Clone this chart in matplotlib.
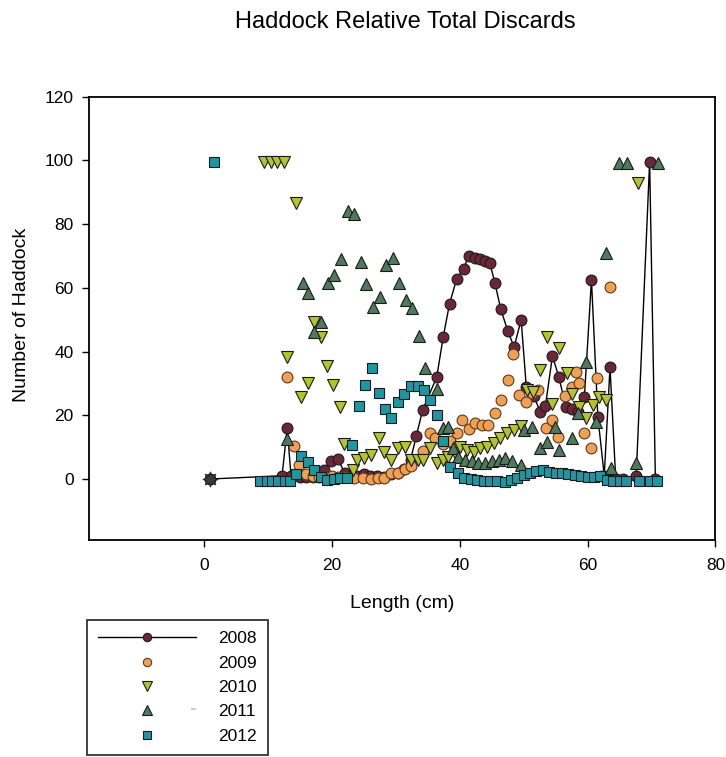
import matplotlib
matplotlib.use("Agg")
import matplotlib.pyplot as plt
from matplotlib.lines import Line2D

plt.rcParams['font.family'] = ['Liberation Sans', 'DejaVu Sans']

# Length (cm) and relative number of haddock discarded per year
len_2008 = [1, 12.2, 13, 13.6, 15, 16, 17, 18.8, 19.8, 20.9, 22, 23, 24, 25, 26, 27, 28.2,
            29.3, 30.3, 31.3, 32.3, 33.2, 34.2, 36.4, 37.4, 38.4, 39.5, 40.6, 41.4, 42.4,
            43.2, 44.0, 44.7, 45.5, 46.4, 47.5, 48.5, 49.6, 50.4, 51.6, 52.6, 53.4, 54.5,
            55.5, 56.6, 57.5, 58.5, 59.5, 60.6, 61.6, 62.6, 63.5, 64.4, 65.5, 67.6, 69.7, 70.6]
num_2008 = [0, 1, 16, 1, 0.5, 0.5, 0.5, 2.8, 5.5, 6.3, 2, 1, 1, 1.5, 1, 1, 0.6,
            1.5, 2, 3, 6, 13.5, 21.7, 32, 44.5, 55, 62.7, 66, 70, 69.4,
            69, 68.5, 67.8, 61.5, 53.4, 46.5, 41.4, 50, 29, 26, 21, 23, 38.6,
            32, 22.6, 22, 21, 25.8, 62.5, 19.6, 1, 35, 0, 0, 1, 99.6, 0]

len_2009 = [13, 14, 14.8, 16, 17, 18, 19, 20, 21, 22, 23.5, 24.8, 26.1, 27.2, 28.2, 29.3,
            30.3, 31.4, 32.4, 34.3, 35.3, 36.2, 37.3, 38.4, 39.5, 40.3, 41.4, 42.4, 43.5,
            44.4, 45.5, 46.5, 47.5, 48.4, 49.3, 50.3, 51.3, 52.3, 53.5, 54.5, 55.4, 56.5,
            57.5, 58.2, 58.7, 59.5, 60.5, 61.4, 62.2, 63.5]
num_2009 = [32, 10.3, 4.4, 1.5, 1, 0.5, 0.5, 1, 0.5, 0.5, 0.3, 0.3, 0, 0.3, 0.3, 2,
            2, 3, 4, 8.9, 14.5, 13, 11, 12, 14.4, 18.5, 15.7, 17.6, 17,
            17, 20.7, 24.8, 31, 39.3, 26.4, 24.2, 27, 28, 16, 18.5, 13.3, 26,
            29, 33.7, 30, 14.3, 9.8, 31.7, 1, 60.2]

len_2010 = [9.3, 10.4, 11.4, 12.5, 13, 14.4, 15.1, 16.2, 17.2, 18.3, 19.2, 20.2, 21.2, 21.9,
            23.3, 23.9, 25, 26.1, 27.3, 28.2, 29.3, 30.3, 31.4, 32.4, 33.5, 34.3, 35.3,
            36.4, 37.3, 38.2, 39.3, 40.1, 41.1, 42.2, 43.2, 44.3, 45.3, 46.3, 47.4, 48.5,
            49.5, 50.5, 51.4, 52.5, 53.6, 54.4, 55.6, 56.7, 57.6, 58.6, 59.7, 60.9, 61.8,
            62.8, 67.9]
num_2010 = [99.6, 99.6, 99.6, 99.6, 38.4, 86.6, 25.8, 30.2, 49.4, 44.7, 35.5, 29.5, 22.5, 11,
            2.8, 6, 6.5, 7.5, 12.8, 8.6, 6, 9.6, 10.1, 6, 6, 6, 9.6,
            4.9, 6, 7, 8, 10, 9.1, 8.6, 9.6, 10.1, 11.2, 12.8, 14.3, 15.4,
            16.6, 28, 27.4, 34.2, 44.7, 23.5, 41, 33.2, 26.8, 22.7, 19, 23.2, 25.8,
            24.8, 92.8]

len_2011 = [13, 15.4, 16.3, 17.2, 18.3, 19.4, 20.4, 21.4, 22.5, 23.5, 24.5, 25.4, 26.4, 27.5,
            28.5, 29.6, 30.5, 31.6, 32.6, 33.6, 34.5, 36.5, 37.3, 38.2, 39, 39.8, 40.8,
            41.9, 42.9, 44, 45, 46.1, 47.1, 48.2, 49.5, 50.1, 51.3, 52.5, 53.7, 54.9, 55.5,
            57.6, 58.5, 59.7, 61.3, 62.8, 63.7, 64.9, 66.1, 67.6, 71]
num_2011 = [12.5, 61.4, 58.3, 46.2, 49.4, 61.6, 64, 69, 84, 83.2, 68, 61.2, 54.1, 57.2,
            67.2, 69.3, 61.4, 56.2, 53.6, 44.8, 34.8, 28.3, 16, 16.4, 9.6, 7, 6,
            5.5, 4.9, 5.1, 5.5, 6, 6.5, 5.5, 4.4, 15.4, 16.4, 9.6, 11.7, 16.4, 9.1,
            12.8, 20.7, 36.8, 18, 71, 3.4, 99.3, 99.3, 4.9, 99.3]

len_2012 = [1.5, 8.8, 9.8, 10.7, 11.6, 12.6, 13.5, 14.4, 15.1, 16.2, 17.2, 18.3, 19.3, 20.3,
            21.3, 22.3, 23.2, 24.2, 25.2, 26.3, 27.3, 28.3, 29.3, 30.3, 31.3, 32.4, 33.4,
            34.4, 35.4, 36.4, 37.4, 38.5, 39.7, 40.7, 41.7, 42.7, 43.8, 44.8, 45.9, 47,
            48, 49, 50, 51, 52, 53, 54, 55, 56, 57, 58, 59, 60, 61, 62, 63, 64, 65, 66,
            68, 69.7, 70.8]
num_2012 = [99.6, -0.5, -0.5, -0.5, -0.5, -0.5, -0.5, 1.5, 7.2, 5.4, 2.8, 0.7, -0.3, 0,
            0.3, 0.3, 10.7, 22.8, 29.5, 34.9, 26.9, 21.9, 19, 24.2, 26.6, 29.3, 29.1,
            27.8, 24.8, 20.1, 12, 3.9, 1.8, 0.4, 0, -0.3, -0.5, -0.5, -0.5, -0.8,
            -0.3, 0.4, 1.2, 1.8, 2.5, 2.8, 2.3, 2, 1.8, 1.5, 1.2, 1, 0.7, 0.7, 1, -0.3,
            -0.5, -0.5, -0.5, -0.5, -0.5, -0.5]

years = ['2008', '2009', '2010', '2011', '2012']
x_ticks = [0, 20, 40, 60, 80]
y_ticks = [0, 20, 40, 60, 80, 100, 120]

c2008 = '#6b2637'
c2009 = '#f0a052'
c2010 = '#b4c52c'
c2011 = '#4f7a5c'
c2012 = '#1f97a3'
edge = '#1a1a1a'

fig = plt.figure(figsize=(7.26, 7.57), dpi=100)
ax = fig.add_axes([0.1226, 0.2873, 0.8629, 0.585])

ax.plot(len_2008, num_2008, color='black', lw=1.0, zorder=2)
ax.plot(len_2008, num_2008, ls='none', marker='o', ms=7.8, mfc=c2008, mec=edge,
        mew=0.8, zorder=3)
ax.plot(len_2009, num_2009, ls='none', marker='o', ms=7.8, mfc=c2009, mec='#5a3a20',
        mew=0.8, zorder=3)
ax.plot(len_2010, num_2010, ls='none', marker='v', ms=8.8, mfc=c2010, mec=edge,
        mew=0.8, zorder=4)
ax.plot(len_2011, num_2011, ls='none', marker='^', ms=8.8, mfc=c2011, mec=edge,
        mew=0.8, zorder=4)
ax.plot(len_2012, num_2012, ls='none', marker='s', ms=7.2, mfc=c2012, mec=edge,
        mew=0.8, zorder=5)
# overlapping start point at zero length
ax.plot(len_2008[:1], num_2008[:1], ls='none', marker=(8, 1, 0), ms=11,
        mfc='#3a3a3a', mec='#222222', mew=0.6, zorder=6)

ax.set_xlim(-18, 80)
ax.set_ylim(-19, 120)
ax.set_xticks(x_ticks)
ax.set_yticks(y_ticks)
ax.tick_params(axis='both', direction='out', length=5, width=1, labelsize=12.5,
               colors='black')
ax.tick_params(axis='x', pad=8)
ax.tick_params(axis='y', pad=6)
for s in ax.spines.values():
    s.set_linewidth(1.3)
    s.set_color('black')

fig.text(405 / 726, 1 - 22 / 757, 'Haddock Relative Total Discards', ha='center',
         va='center', fontsize=17)
fig.text(402 / 726, 1 - 604 / 757, 'Length (cm)', ha='center', va='center', fontsize=14)
fig.text(22 / 726, 1 - 315 / 757, 'Number of Haddock', ha='center', va='center',
         rotation=90, fontsize=14)

handles = [
    Line2D([], [], color='black', lw=1.0, marker='o', ms=6, mfc=c2008, mec=edge, mew=0.8),
    Line2D([], [], ls='none', marker='o', ms=6, mfc=c2009, mec='#5a3a20', mew=0.8),
    Line2D([], [], ls='none', marker='v', ms=7, mfc=c2010, mec=edge, mew=0.8),
    Line2D([], [], ls='none', marker='^', ms=7, mfc=c2011, mec=edge, mew=0.8),
    Line2D([], [], ls='none', marker='s', ms=6, mfc=c2012, mec=edge, mew=0.8),
]
leg = fig.legend(handles, years, loc='upper left', bbox_to_anchor=(87 / 726, 1 - 620 / 757),
                 fontsize=12.5, frameon=True, fancybox=False, edgecolor='black',
                 handlelength=5.6, handletextpad=1.3, labelspacing=0.53, borderpad=0.65,
                 borderaxespad=0, numpoints=1)
leg.get_frame().set_linewidth(1.3)
fig.text(193 / 726, 1 - 709 / 757, '-', ha='center', va='center', fontsize=15,
         fontweight='bold')

fig.savefig('out.png', dpi=100, facecolor='white')
